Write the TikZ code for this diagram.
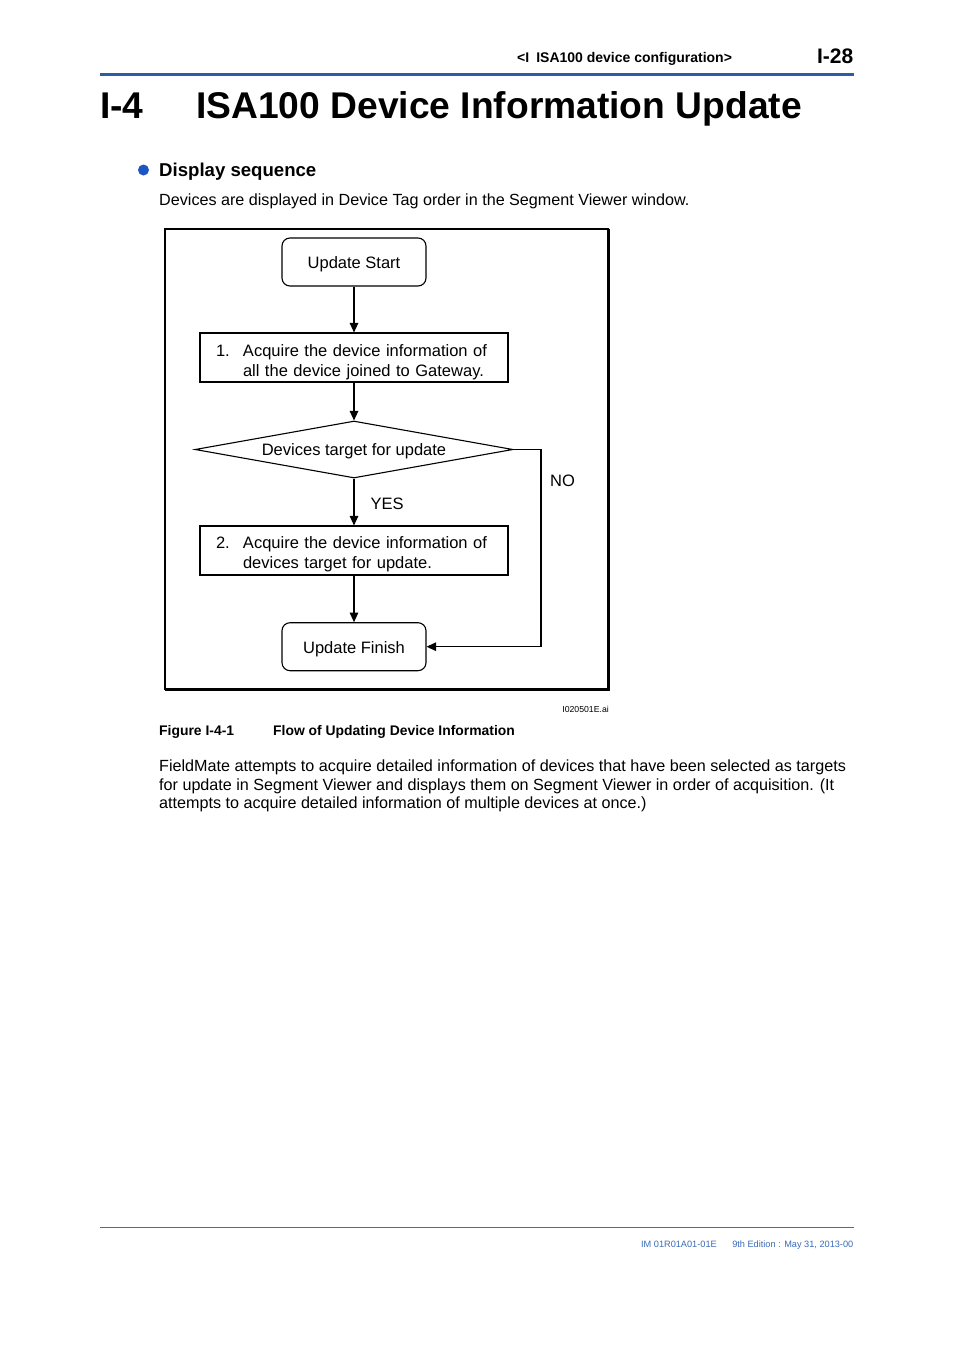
\documentclass[tikz,border=0pt]{standalone}
\usepackage{fontspec}
\setmainfont{Liberation Sans}
\usetikzlibrary{arrows.meta,shapes.geometric}
\definecolor{hdrblue}{HTML}{2B5CA8}
\definecolor{bulblue}{HTML}{1E55C2}
\definecolor{footblue}{HTML}{3A6BB8}
\definecolor{footline}{HTML}{4A6A9A}
\newcommand{\lowr}[2]{\raisebox{-#1}[\height][\depth]{#2}}
\begin{document}
\begin{tikzpicture}[x=1pt,y=-1pt,
  txt/.style={inner sep=0pt, anchor=base west},
  txtr/.style={inner sep=0pt, anchor=base east},
  flowfont/.style={font=\fontsize{16.5}{20}\selectfont},
  term/.style={draw, line width=1.1pt, rounded corners=8pt, minimum width=144pt, minimum height=48pt, inner sep=0pt, flowfont},
  proc/.style={draw, line width=1.1pt, text width=276pt, inner xsep=16pt, inner ysep=0pt, align=left, minimum height=49pt, flowfont},
  decision/.style={draw, line width=1.1pt, diamond, aspect=5.58, minimum width=318pt, minimum height=57pt, inner sep=0pt, flowfont},
  arr/.style={-{Triangle[length=9.5pt,width=8.5pt]}, line width=1.1pt},
  body/.style={txt, font=\fontsize{16.15}{19}\selectfont}
]
\fill[white] (0,0) rectangle (954,1350);
\useasboundingbox (0,0) rectangle (954,1350);

% header
\node[txt, font=\fontsize{14}{16}\bfseries] (hdr) at (517,62) {<I\hspace{0.5em}ISA100 device configuration>};
\node[txtr, font=\fontsize{21}{24}\bfseries] (pg) at (853.5,63) {I-28};
\draw[hdrblue, line width=3.4pt] (100,74.5) -- (854,74.5);

% title
\node[txt, font=\fontsize{37.2}{42}\bfseries] (secno) at (100,118) {I-4};
\node[txt, font=\fontsize{37.2}{42}\bfseries] (title) at (196,118) {ISA100 Device Information Update};

% subsection
\fill[bulblue] (143.5,170) circle (5.5);
\node[txt, font=\fontsize{18.6}{22}\bfseries] (sub) at (159,176) {Display sequence};
\node[body] (intro) at (159,205) {Devices are displayed in Device Tag order in the Segment Viewer window.};

% figure frame
\draw[line width=1.5pt] (165,229) rectangle (608.5,689.5);
\draw[line width=2.6pt] (608.3,229) -- (608.3,689.3) -- (165,689.3);

% flowchart
\node[term] (start) at (354,262) {\lowr{2.5pt}{Update Start}};
\node[proc] (box1) at (354,357.5) {\rule{0pt}{21pt}\makebox[27pt][l]{1.}Acquire the device information of\\\hspace*{27pt}all the device joined to Gateway.};
\node[decision] (dec) at (354,449.5) {\lowr{2pt}{Devices target for update}};
\node[proc] (box2) at (354,550.5) {\rule{0pt}{20pt}\makebox[27pt][l]{2.}Acquire the device information of\\\hspace*{27pt}devices target for update.};
\node[term] (finish) at (354,646.7) {\lowr{3pt}{Update Finish}};
\coordinate (nocorner) at (541,449.5);

\draw[arr] (start.south) -- (box1.north);
\draw[arr] (box1.south) -- (dec.north);
\draw[arr] (dec.south) -- (box2.north);
\draw[arr] (box2.south) -- (finish.north);
\draw[arr] (dec.east) -- (nocorner) |- (finish.east);

\node[txt, flowfont] (yes) at (370.5,509.5) {YES};
\node[txt, flowfont] (no) at (550,486) {NO};

\node[txtr, font=\fontsize{8.7}{10}\selectfont] (fname) at (609,712) {I020501E.ai};

% caption
\node[txt, font=\fontsize{13.9}{16}\bfseries] (figno) at (159,735) {Figure I-4-1};
\node[txt, font=\fontsize{13.9}{16}\bfseries] (figcap) at (273,735) {Flow of Updating Device Information};

% paragraph
\node[body] (p1) at (159,771) {FieldMate attempts to acquire detailed information of devices that have been selected as targets};
\node[body] (p2) at (159,790) {for update in Segment Viewer and displays them on Segment Viewer in order of acquisition. (It};
\node[body] (p3) at (159,808.5) {attempts to acquire detailed information of multiple devices at once.)};

% footer
\draw[footline, line width=0.9pt] (100,1227) -- (854,1227);
\node[txtr, footblue, font=\fontsize{9.2}{11}\selectfont] (doc) at (717,1247.3) {IM 01R01A01-01E};
\node[txtr, footblue, font=\fontsize{9.2}{11}\selectfont] (ed) at (853.5,1247.3) {9th Edition : May 31, 2013-00};
\end{tikzpicture}
\end{document}
